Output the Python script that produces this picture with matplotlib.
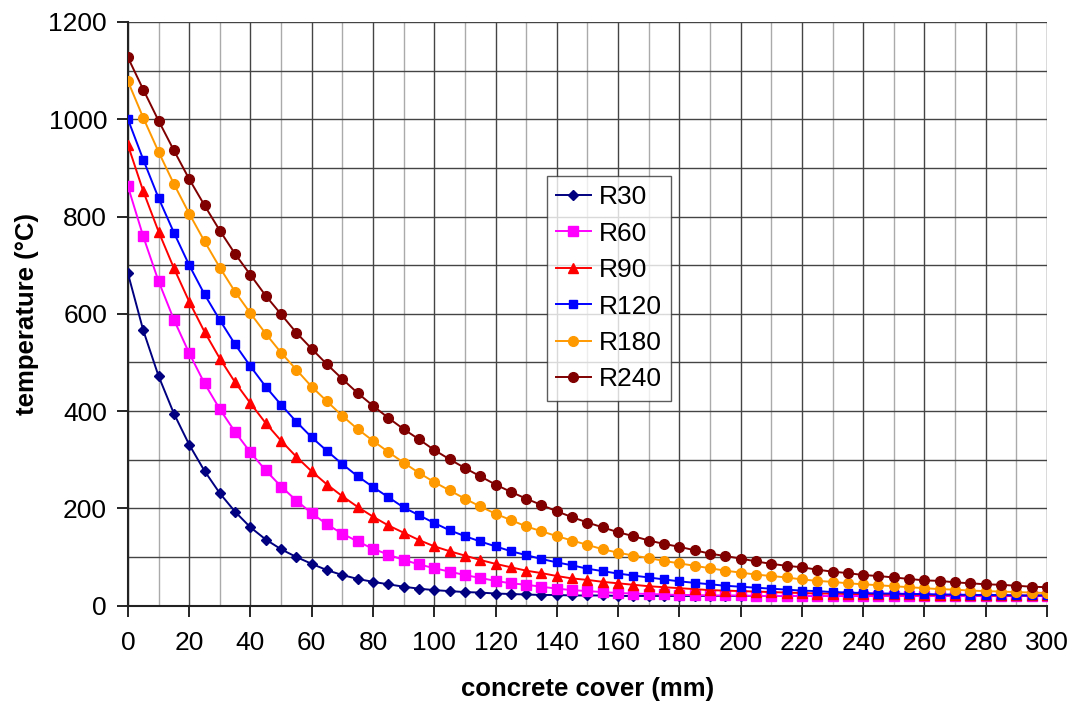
import matplotlib
matplotlib.use("Agg")
import matplotlib.pyplot as plt
from matplotlib.ticker import MultipleLocator

# concrete cover (mm)
cover = list(range(0, 305, 5))

r30 = [683, 566, 472, 395, 331, 277, 231, 193, 161, 136, 116, 100, 86, 73, 63, 55,
       49, 44, 39, 35, 32, 30, 28, 27, 25, 24, 23, 22, 22, 21, 21, 21, 20,
       20, 20, 20, 20, 20, 20, 20, 20, 20, 20, 20, 20, 20, 20, 20, 20, 20, 20,
       20, 20, 20, 20, 20, 20, 20, 20, 20, 20]
r60 = [862, 759, 667, 588, 519, 457, 404, 357, 315, 278, 245, 216, 190, 167, 148, 132,
       117, 105, 94, 85, 77, 70, 63, 57, 51, 46, 43, 39, 35, 32, 30, 28, 26,
       25, 24, 23, 22, 22, 21, 21, 21, 20, 20, 20, 20, 20, 20, 20, 20, 20, 20,
       20, 20, 20, 20, 20, 20, 20, 20, 20, 20]
r90 = [947, 852, 769, 694, 625, 563, 508, 459, 416, 375, 339, 306, 276, 249, 225, 203,
       183, 165, 150, 135, 122, 112, 103, 94, 86, 79, 72, 67, 61, 56, 53, 49, 46,
       43, 40, 38, 36, 34, 32, 31, 30, 29, 28, 27, 26, 25, 25, 24, 24, 23, 23,
       23, 22, 22, 22, 22, 21, 21, 21, 21, 21]
r120 = [1000, 917, 838, 767, 700, 640, 587, 537, 492, 450, 413, 378, 346, 318, 291, 266,
        244, 223, 202, 186, 170, 155, 143, 132, 122, 112, 104, 96, 89, 83, 76, 71, 66,
        62, 58, 54, 50, 47, 44, 41, 39, 37, 35, 33, 31, 30, 28, 27, 26, 25, 25,
        24, 24, 23, 23, 22, 22, 22, 21, 21, 21]
r180 = [1078, 1003, 933, 867, 806, 749, 695, 645, 601, 559, 520, 485, 450, 420, 390, 363,
        339, 316, 294, 273, 254, 237, 220, 204, 189, 176, 163, 153, 143, 134, 125, 116, 109,
        103, 98, 92, 87, 82, 77, 72, 68, 64, 61, 58, 54, 51, 49, 46, 44, 42, 40,
        38, 36, 34, 33, 31, 30, 29, 28, 27, 26]
r240 = [1127, 1061, 997, 936, 877, 823, 771, 723, 680, 637, 599, 561, 528, 496, 466, 437,
        411, 386, 363, 342, 320, 301, 283, 266, 249, 234, 220, 207, 194, 182, 171, 161, 151,
        143, 134, 127, 121, 114, 107, 102, 97, 91, 86, 82, 79, 74, 70, 67, 63, 61, 58,
        55, 52, 51, 48, 46, 44, 43, 41, 39, 38]

series = [
    ("R30", r30, "#000080", "D", 5),
    ("R60", r60, "#FF00FF", "s", 7),
    ("R90", r90, "#FF0000", "^", 7),
    ("R120", r120, "#0000FF", "s", 5.5),
    ("R180", r180, "#FF9900", "o", 7),
    ("R240", r240, "#800000", "o", 7),
]

plt.rcParams["font.family"] = ["Liberation Sans", "DejaVu Sans"]

fig = plt.figure(figsize=(10.77, 7.07), dpi=100)
ax = fig.add_axes([0.1188, 0.1433, 0.8533, 0.8256])

for name, vals, col, mk, ms in series:
    ax.plot(cover, vals, color=col, marker=mk, markersize=ms, linewidth=1.4,
            markeredgecolor=col, label=name, zorder=3)

ax.set_xlim(0, 300)
ax.set_ylim(0, 1200)
ax.xaxis.set_major_locator(MultipleLocator(20))
ax.xaxis.set_minor_locator(MultipleLocator(10))
ax.yaxis.set_major_locator(MultipleLocator(200))
ax.yaxis.set_minor_locator(MultipleLocator(100))

ax.grid(which="major", axis="x", color="#444444", linewidth=1.0)
ax.grid(which="minor", axis="x", color="#aaaaaa", linewidth=1.0)
ax.grid(which="both", axis="y", color="#444444", linewidth=1.0)
ax.set_axisbelow(True)

ax.tick_params(axis="both", which="major", direction="out", length=8, width=1.2,
               labelsize=19)
ax.tick_params(axis="x", which="major", pad=10)
ax.tick_params(axis="y", which="major", pad=7)
ax.tick_params(axis="both", which="minor", length=0)
for s in ["top", "right"]:
    ax.spines[s].set_visible(False)
for s in ["left", "bottom"]:
    ax.spines[s].set_color("#222222")
    ax.spines[s].set_linewidth(1.5)

ax.set_xlabel("concrete cover (mm)", fontsize=18.5, fontweight="bold", labelpad=16)
ax.set_ylabel("temperature (°C)", fontsize=18.5, fontweight="bold", labelpad=7)

leg = ax.legend(loc="upper left", bbox_to_anchor=(0.456, 0.736), fontsize=19,
                frameon=True, fancybox=False, edgecolor="#333333",
                handlelength=1.3, borderpad=0.35, labelspacing=0.47,
                handletextpad=0.3, borderaxespad=0)
leg.get_frame().set_linewidth(1.0)

fig.savefig("out.png", dpi=100)
